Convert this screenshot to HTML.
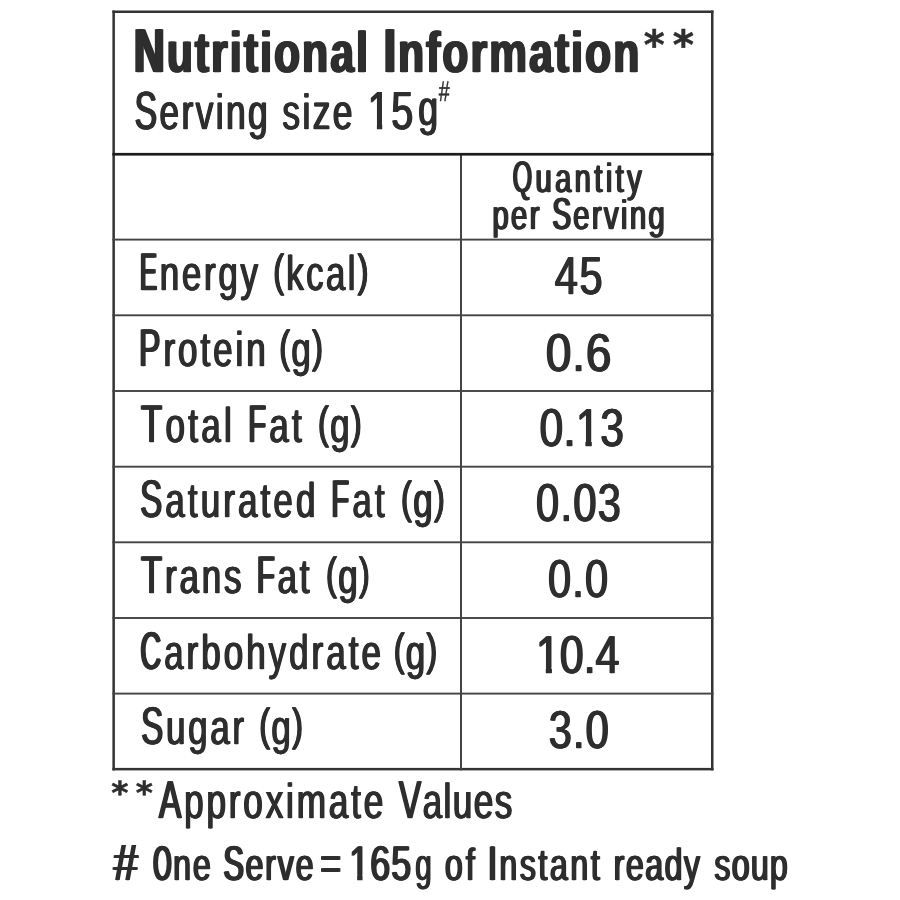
<!DOCTYPE html>
<html lang="en">
<head>
<meta charset="utf-8">
<title>Nutritional Information</title>
<style>
html,body{margin:0;padding:0;background:#fff;}
body{width:900px;height:900px;position:relative;overflow:hidden;font-family:"Liberation Sans",sans-serif;color:#2e2e2e;}
.grid{position:absolute;left:0;top:0;width:900px;height:900px;}
.t{position:absolute;left:0;white-space:pre;transform-origin:0 0;margin:0;text-rendering:geometricPrecision;}
.r,.h,.b{text-shadow:var(--s) 0 0 #2e2e2e,calc(-1*var(--s)) 0 0 #2e2e2e;-webkit-text-stroke:.3px #2e2e2e;}
.r{--s:1px;}
.h{--s:1.25px;}
.b{--s:1.5px;font-weight:700;}
.a{font-family:"DejaVu Sans","Liberation Sans",sans-serif;font-weight:700;-webkit-text-stroke:.5px #2e2e2e;}
.i{font-style:italic;-webkit-text-stroke:.5px #2e2e2e;}
.i2{font-style:italic;}
.c{display:inline-block;transform-origin:0 var(--b);transform:scaleY(1.085);--k:1.35;text-shadow:calc(var(--s)*var(--k)) 0 0 #2e2e2e,calc(-1*var(--s)*var(--k)) 0 0 #2e2e2e;}
.cE{transform:scale(0.736,1.085);margin-right:-0.1761em;--k:2.3;}
.cF{transform:scale(0.84,1.085);margin-right:-0.0977em;--k:1.75;}
.cO{transform:scale(0.72,1.085);margin-right:-0.2178em;--k:2.15;}
.cC{transform:scale(0.82,1.085);margin-right:-0.1300em;--k:1.9;}
.cQ{transform:scale(0.854,1.085);margin-right:-0.1136em;}
.cS{transform:scale(0.95,1.085);margin-right:-0.0333em;}
.cP{transform:scale(0.92,1.085);margin-right:-0.0534em;--k:1.45;}
.cA{transform:scale(0.95,1.085);margin-right:-0.0333em;}
.cV{transform:scale(0.95,1.085);margin-right:-0.0333em;}
.o{--m:calc(var(--s)*var(--k,1) + .2px);--y:calc(var(--b) - .0747em - 1.4px);clip-path:polygon(-1em -1em,3em -1em,3em var(--y),calc(.3398em + var(--m)) var(--y),calc(.3398em + var(--m)) 3em,calc(.2515em - var(--m)) 3em,calc(.2515em - var(--m)) var(--y),-1em var(--y));}
.v .o{display:inline-block;}
.d{--k:.95;}
.p{font-size:.92em;position:relative;top:-.09em;-webkit-text-stroke:.7px #2e2e2e;}
.u{position:relative;top:-4.5px;}
</style>
</head>
<body>
<svg class="grid" width="900" height="900" viewBox="0 0 900 900">
<rect x="112.40" y="10.50" width="601.10" height="2.50" fill="#333"/>
<rect x="112.40" y="767.90" width="601.10" height="2.50" fill="#333"/>
<rect x="112.40" y="10.50" width="2.50" height="759.90" fill="#333"/>
<rect x="711.00" y="10.50" width="2.50" height="759.90" fill="#333"/>
<rect x="112.40" y="238.65" width="601.10" height="1.90" fill="#444"/>
<rect x="112.40" y="314.35" width="601.10" height="1.90" fill="#444"/>
<rect x="112.40" y="390.05" width="601.10" height="1.90" fill="#444"/>
<rect x="112.40" y="465.75" width="601.10" height="1.90" fill="#444"/>
<rect x="112.40" y="541.35" width="601.10" height="1.90" fill="#444"/>
<rect x="112.40" y="617.05" width="601.10" height="1.90" fill="#444"/>
<rect x="112.40" y="692.65" width="601.10" height="1.90" fill="#444"/>
<rect x="460.00" y="154.00" width="2.00" height="616.40" fill="#444"/>
<rect x="112.40" y="152.90" width="601.10" height="2.70" fill="#1c1c1c"/>
</svg>
<div class="t b" style="top:25.00px;font-size:57.32px;line-height:57.32px;transform:translateX(133.94px) scaleX(0.7400);letter-spacing:2.96px;--b:47.1px;"><span class="c">N</span>utritional <span class="c">I</span>nformation</div>
<div class="t a v" style="top:25.00px;font-size:40.45px;line-height:40.45px;transform:translateX(643.68px) scaleX(0.9893);">*</div>
<div class="t a v" style="top:25.00px;font-size:40.45px;line-height:40.45px;transform:translateX(672.70px) scaleX(1.0027);">*</div>
<div class="t r" style="top:88.00px;font-size:49.51px;line-height:49.51px;transform:translateX(134.56px) scaleX(0.7160);letter-spacing:3.31px;--b:41.1px;"><span class="c cS">S</span>erving size</div>
<div class="t r" style="top:88.00px;font-size:49.51px;line-height:49.51px;transform:translateX(367.86px) scaleX(0.8000);letter-spacing:1.62px;--b:41.1px;"><span class="c d o">1</span><span class="c d">5</span></div>
<div class="t r" style="top:88.00px;font-size:49.49px;line-height:49.49px;transform:translateX(418.24px) scaleX(0.7201);--b:41.1px;"><span class="u">g</span></div>
<div class="t i v" style="top:78.00px;font-size:28.63px;line-height:28.63px;transform:translateX(438.56px) scaleX(0.6811);">#</div>
<div class="t h" style="top:158.00px;font-size:40.67px;line-height:40.67px;transform:translateX(512.74px) scaleX(0.7160);letter-spacing:4.77px;--b:34.1px;"><span class="c cQ">Q</span>uantity</div>
<div class="t h" style="top:195.00px;font-size:41.16px;line-height:41.16px;transform:translateX(492.28px) scaleX(0.7160);letter-spacing:3.19px;--b:34.1px;">per <span class="c cS">S</span>erving</div>
<div class="t r" style="top:250.00px;font-size:48.83px;line-height:48.83px;transform:translateX(139.85px) scaleX(0.7160);letter-spacing:3.78px;--b:40.1px;"><span class="c cE">E</span>nergy</div>
<div class="t r" style="top:250.00px;font-size:48.83px;line-height:48.83px;transform:translateX(273.28px) scaleX(0.7160);letter-spacing:3.23px;--b:40.1px;"><span class="p">(</span>kcal<span class="p">)</span></div>
<div class="t r v" style="top:250.00px;font-size:53.26px;line-height:53.26px;transform:translateX(554.80px) scaleX(0.7800);letter-spacing:2.09px;">45</div>
<div class="t r" style="top:326.00px;font-size:48.83px;line-height:48.83px;transform:translateX(138.98px) scaleX(0.7160);letter-spacing:4.15px;--b:40.1px;"><span class="c cP">P</span>rotein</div>
<div class="t r" style="top:326.00px;font-size:48.83px;line-height:48.83px;transform:translateX(279.28px) scaleX(0.7160);letter-spacing:1.93px;--b:40.1px;"><span class="p">(</span>g<span class="p">)</span></div>
<div class="t r v" style="top:327.00px;font-size:53.26px;line-height:53.26px;transform:translateX(545.82px) scaleX(0.8600);letter-spacing:1.12px;">0.6</div>
<div class="t r" style="top:402.00px;font-size:48.83px;line-height:48.83px;transform:translateX(140.90px) scaleX(0.7160);letter-spacing:4.58px;--b:40.1px;"><span class="c">T</span>otal <span class="c cF">F</span>at</div>
<div class="t r" style="top:402.00px;font-size:48.83px;line-height:48.83px;transform:translateX(318.09px) scaleX(0.7160);letter-spacing:1.87px;--b:40.1px;"><span class="p">(</span>g<span class="p">)</span></div>
<div class="t r v" style="top:402.00px;font-size:53.26px;line-height:53.26px;transform:translateX(539.44px) scaleX(0.8000);letter-spacing:0.63px;--b:44.1px;">0.<span class="o">1</span>3</div>
<div class="t r" style="top:477.00px;font-size:48.83px;line-height:48.83px;transform:translateX(140.05px) scaleX(0.7160);letter-spacing:4.34px;--b:40.1px;"><span class="c cS">S</span>aturated <span class="c cF">F</span>at</div>
<div class="t r" style="top:477.00px;font-size:48.83px;line-height:48.83px;transform:translateX(400.98px) scaleX(0.7160);letter-spacing:2.09px;--b:40.1px;"><span class="p">(</span>g<span class="p">)</span></div>
<div class="t r v" style="top:477.00px;font-size:53.26px;line-height:53.26px;transform:translateX(536.04px) scaleX(0.7800);letter-spacing:1.72px;">0.03</div>
<div class="t r" style="top:553.00px;font-size:48.83px;line-height:48.83px;transform:translateX(140.90px) scaleX(0.7160);letter-spacing:3.91px;--b:40.1px;"><span class="c">T</span>rans <span class="c cF">F</span>at</div>
<div class="t r" style="top:553.00px;font-size:48.83px;line-height:48.83px;transform:translateX(325.97px) scaleX(0.7160);letter-spacing:2.08px;--b:40.1px;"><span class="p">(</span>g<span class="p">)</span></div>
<div class="t r v" style="top:553.00px;font-size:53.26px;line-height:53.26px;transform:translateX(548.04px) scaleX(0.7800);letter-spacing:1.44px;">0.0</div>
<div class="t r" style="top:629.00px;font-size:48.83px;line-height:48.83px;transform:translateX(140.40px) scaleX(0.7160);letter-spacing:4.21px;--b:40.1px;"><span class="c cC">C</span>arbohydrate</div>
<div class="t r" style="top:629.00px;font-size:48.83px;line-height:48.83px;transform:translateX(393.82px) scaleX(0.7160);letter-spacing:1.72px;--b:40.1px;"><span class="p">(</span>g<span class="p">)</span></div>
<div class="t r v" style="top:629.00px;font-size:53.26px;line-height:53.26px;transform:translateX(536.16px) scaleX(0.8000);letter-spacing:0.08px;--b:44.1px;"><span class="o">1</span>0.4</div>
<div class="t r" style="top:704.00px;font-size:48.83px;line-height:48.83px;transform:translateX(141.20px) scaleX(0.7160);letter-spacing:3.73px;--b:40.1px;"><span class="c cS">S</span>ugar</div>
<div class="t r" style="top:704.00px;font-size:48.83px;line-height:48.83px;transform:translateX(259.28px) scaleX(0.7160);letter-spacing:1.93px;--b:40.1px;"><span class="p">(</span>g<span class="p">)</span></div>
<div class="t r v" style="top:704.00px;font-size:53.26px;line-height:53.26px;transform:translateX(548.76px) scaleX(0.7800);letter-spacing:1.44px;">3.0</div>
<div class="t a v" style="top:779.00px;font-size:31.61px;line-height:31.61px;transform:translateX(111.24px) scaleX(1.0407);">*</div>
<div class="t a v" style="top:779.00px;font-size:31.62px;line-height:31.62px;transform:translateX(135.76px) scaleX(1.0352);">*</div>
<div class="t r" style="top:778.00px;font-size:49.09px;line-height:49.09px;transform:translateX(159.00px) scaleX(0.7160);letter-spacing:3.93px;--b:40.1px;"><span class="c cA">A</span>pproximate</div>
<div class="t r" style="top:778.00px;font-size:49.09px;line-height:49.09px;transform:translateX(398.91px) scaleX(0.7160);letter-spacing:1.97px;--b:40.1px;"><span class="c cV">V</span>alues</div>
<div class="t h i2 v" style="top:837.00px;font-size:51.02px;line-height:51.02px;transform:translateX(112.94px) scaleX(0.8617);">#</div>
<div class="t h" style="top:843.00px;font-size:44.88px;line-height:44.88px;transform:translateX(153.31px) scaleX(0.7160);letter-spacing:2.56px;--b:37.1px;"><span class="c cO">O</span>ne <span class="c cS">S</span>erve</div>
<div class="t h v" style="top:840.00px;font-size:48.62px;line-height:48.62px;transform:translateX(320.24px) scaleX(0.7370);">=</div>
<div class="t h" style="top:843.00px;font-size:44.87px;line-height:44.87px;transform:translateX(349.23px) scaleX(0.8000);letter-spacing:1.26px;--b:37.1px;"><span class="c d o">1</span><span class="c d">6</span><span class="c d">5</span></div>
<div class="t h" style="top:843.00px;font-size:44.86px;line-height:44.86px;transform:translateX(415.23px) scaleX(0.6594);--b:37.1px;">g</div>
<div class="t h" style="top:843.00px;font-size:44.87px;line-height:44.87px;transform:translateX(444.81px) scaleX(0.7160);letter-spacing:4.36px;--b:37.1px;">of</div>
<div class="t h" style="top:843.00px;font-size:44.87px;line-height:44.87px;transform:translateX(487.95px) scaleX(0.7160);letter-spacing:3.57px;--b:37.1px;"><span class="c">I</span>nstant</div>
<div class="t h" style="top:843.00px;font-size:44.88px;line-height:44.88px;transform:translateX(613.73px) scaleX(0.7160);letter-spacing:2.06px;--b:37.1px;">ready</div>
<div class="t h" style="top:843.00px;font-size:44.88px;line-height:44.88px;transform:translateX(714.46px) scaleX(0.7160);letter-spacing:1.71px;--b:37.1px;">soup</div>
</body>
</html>
